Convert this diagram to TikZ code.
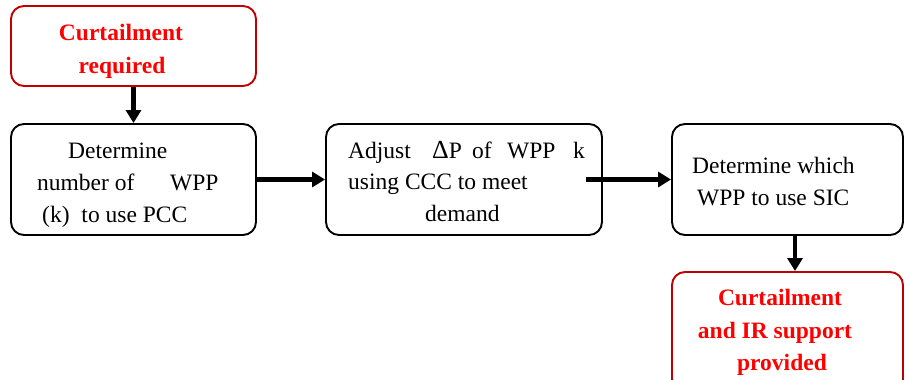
\documentclass[tikz,border=0pt]{standalone}
\usepackage{fontspec}
\setmainfont{Liberation Serif}
\usetikzlibrary{arrows.meta}
\definecolor{boxred}{RGB}{192,0,0}
\definecolor{textred}{RGB}{255,0,0}

\begin{document}
\begin{tikzpicture}[x=1pt,y=-1pt,
  stepbox/.style={draw=black, line width=1.9pt, rounded corners=13pt, inner sep=0pt},
  endbox/.style={stepbox, draw=boxred},
  txt/.style={inner sep=0pt, anchor=base west, font=\fontsize{23.5}{28}\selectfont},
  redtxt/.style={inner sep=0pt, anchor=base, text=textred, font=\fontsize{23.5}{28}\selectfont\bfseries},
  flow/.style={line width=4.5pt, -{Triangle[length=13pt,width=15pt]}}]

\useasboundingbox (0,0) rectangle (905,380);
\clip (0,0) rectangle (905,380);

% boxes
\node[endbox,  minimum width=245pt, minimum height=80pt]  (start)  at (133.5,46)    {};
\node[stepbox, minimum width=245pt, minimum height=111pt] (count)  at (133.5,179.5) {};
\node[stepbox, minimum width=276pt, minimum height=111pt] (adjust) at (464,179.5)   {};
\node[stepbox, minimum width=231pt, minimum height=111pt] (which)  at (787.5,179.5) {};
\node[endbox,  minimum width=231pt, minimum height=120pt] (done)   at (787.5,332)   {};

% texts
\node[redtxt] (startA) at (121,40) {Curtailment};
\node[redtxt] (startB) at (122,73) {required};

\node[txt] (countA) at (68,158)  {Determine};
\node[txt] (countB) at (37,190)  {\makebox[133pt][l]{number of}WPP};
\node[txt] (countC) at (42,222)  {(k)\hspace{6pt} to use PCC};

\node[txt] (adjustA) at (348,158) {\makebox[84pt][l]{Adjust}\makebox[40pt][l]{\fontsize{26}{28}\selectfont Δ\fontsize{23.5}{28}\selectfont P}\makebox[35pt][l]{of}\makebox[66pt][l]{WPP}k};
\node[txt] (adjustB) at (348,189) {using CCC to meet};
\node[txt] (adjustC) at (425,221) {demand};

\node[txt] (whichA) at (692,173) {Determine which};
\node[txt] (whichB) at (697,205) {WPP to use SIC};

\node[redtxt] (doneA) at (780,305) {Curtailment};
\node[redtxt] (doneB) at (775,338) {and IR support};
\node[redtxt] (doneC) at (782,370) {provided};

% connectors
\draw[flow] (start.south) -- (count.north);
\draw[flow] (count.east) -- (adjust.west);
\draw[flow] ([xshift=-17pt]adjust.east) -- (which.west);
\draw[flow] ([xshift=7.5pt]which.south) -- ([xshift=7.5pt]done.north);
\end{tikzpicture}
\end{document}
